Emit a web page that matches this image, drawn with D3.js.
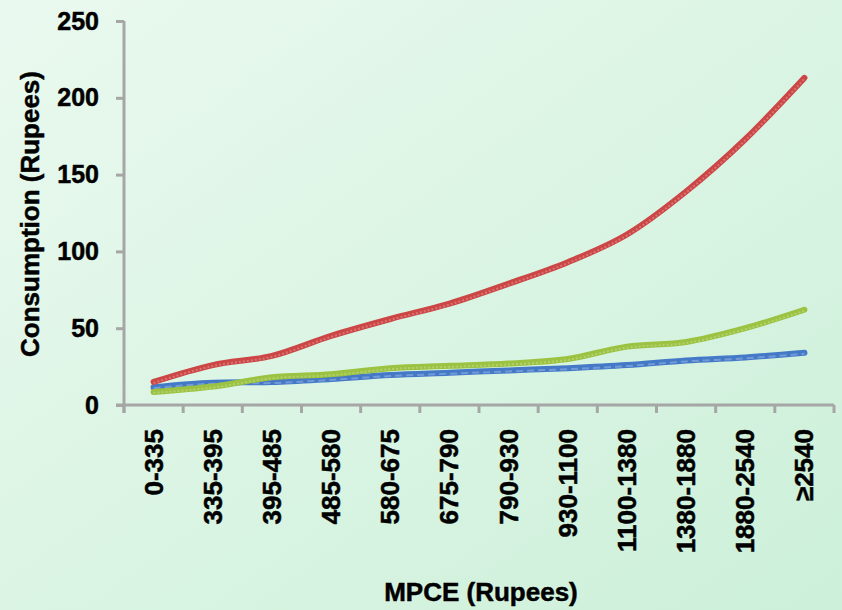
<!DOCTYPE html>
<html>
<head>
<meta charset="utf-8">
<script src="https://cdn.jsdelivr.net/npm/d3@7/dist/d3.min.js"></script>
<style>
  html, body { margin: 0; padding: 0; }
  body { width: 842px; height: 610px; overflow: hidden; }
  text { font-family: "Liberation Sans", Arial, sans-serif; font-weight: bold; fill: #000; stroke: #000; stroke-width: 0.5px; }
</style>
</head>
<body>
<div id="chart"></div>
<script>
var categories = ["0-335", "335-395", "395-485", "485-580", "580-675", "675-790",
                  "790-930", "930-1100", "1100-1380", "1380-1880", "1880-2540", "\u22652540"];
var redValues = [15, 26, 32, 45, 56, 66, 79, 93, 111, 139, 173, 213];
var greenValues = [8.5, 12, 18, 20, 24, 25.5, 27, 30, 38, 41, 50, 62];
var blueValues = [11.5, 14.5, 15, 17, 19.5, 21, 22.5, 24, 26, 29, 31, 34];
var yTicks = [0, 50, 100, 150, 200, 250];

var width = 842, height = 610;
var plotLeft = 124, plotRight = 834, plotTop = 21, plotBottom = 405;

var svg = d3.select("#chart").append("svg")
    .attr("width", width)
    .attr("height", height);

// soft green background
var grad = svg.append("defs").append("linearGradient")
    .attr("id", "bg")
    .attr("x1", "0%").attr("y1", "0%")
    .attr("x2", "100%").attr("y2", "100%");
grad.append("stop").attr("offset", "0%").attr("stop-color", "#eaf9ef");
grad.append("stop").attr("offset", "100%").attr("stop-color", "#ccf0d9");
svg.append("rect")
    .attr("width", width)
    .attr("height", height)
    .attr("fill", "url(#bg)");

var x = d3.scaleBand().domain(categories).range([plotLeft, plotRight]);
var y = d3.scaleLinear().domain([0, 250]).range([plotBottom, plotTop]);

// y axis
var yAxis = svg.append("g")
    .attr("transform", "translate(" + plotLeft + ",0)")
    .call(d3.axisLeft(y).tickValues(yTicks).tickSize(8).tickPadding(17));
yAxis.selectAll("line, path").attr("stroke", "#a6a6a6").attr("stroke-width", 3);
yAxis.select(".domain").attr("d", "M0," + plotTop + "V" + (plotBottom + 8));
yAxis.selectAll("text")
    .style("font-size", "25px")
    .style("font-family", "'Liberation Sans', Arial, sans-serif")
    .style("font-weight", "bold")
    .attr("fill", "#000");

// x axis, ticks on the band edges
var edges = categories.map(function(c) { return x(c); }).concat([plotRight]);
var xAxisG = svg.append("g");
xAxisG.append("line")
    .attr("x1", plotLeft - 8).attr("x2", plotRight)
    .attr("y1", plotBottom).attr("y2", plotBottom)
    .attr("stroke", "#a6a6a6").attr("stroke-width", 3);
xAxisG.selectAll(".xt").data(edges).enter().append("line")
    .attr("class", "xt")
    .attr("x1", function(d) { return d; }).attr("x2", function(d) { return d; })
    .attr("y1", plotBottom).attr("y2", plotBottom + 8)
    .attr("stroke", "#a6a6a6").attr("stroke-width", 3);
xAxisG.selectAll(".xl").data(categories).enter().append("text")
    .attr("class", "xl")
    .attr("transform", function(d) {
        return "translate(" + (x(d) + x.bandwidth() / 2 + 9) + "," + 429 + ") rotate(-90)";
    })
    .attr("text-anchor", "end")
    .style("font-size", "26px")
    .text(function(d) { return d; });

// axis titles
svg.append("text")
    .attr("transform", "translate(39,214) rotate(-90)")
    .attr("text-anchor", "middle")
    .style("font-size", "26px")
    .text("Consumption (Rupees)");
svg.append("text")
    .attr("x", 481).attr("y", 601)
    .attr("text-anchor", "middle")
    .style("font-size", "26px")
    .text("MPCE (Rupees)");

// lines
var line = d3.line()
    .x(function(d, i) { return x(categories[i]) + x.bandwidth() / 2; })
    .y(function(d) { return y(d); })
    .curve(d3.curveMonotoneX);

var series = [
    { values: blueValues, color: "#4479c8", dash: "7,4" },
    { values: greenValues, color: "#9bc240", dash: "2,2" },
    { values: redValues, color: "#cc4646", dash: "2,2" }
];

series.forEach(function(s) {
    svg.append("path")
        .attr("d", line(s.values))
        .attr("fill", "none")
        .attr("stroke", s.color)
        .attr("stroke-width", 6)
        .attr("stroke-linecap", "round")
        .attr("stroke-linejoin", "round");
    svg.append("path")
        .attr("d", line(s.values))
        .attr("fill", "none")
        .attr("stroke", "#ffffff")
        .attr("stroke-opacity", 0.25)
        .attr("stroke-width", 2)
        .attr("stroke-dasharray", s.dash)
        .attr("transform", "translate(0,1)");
});
</script>
</body>
</html>
